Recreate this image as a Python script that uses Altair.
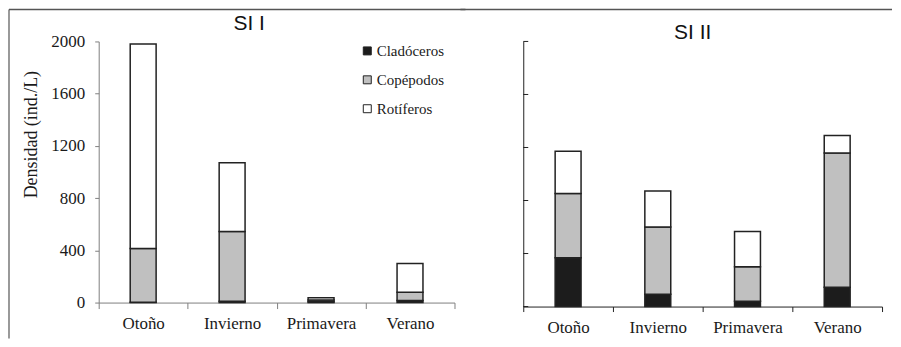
import altair as alt
import pandas as pd

seasons = ["Otoño", "Invierno", "Primavera", "Verano"]
groups = ["Cladóceros", "Copépodos", "Rotíferos"]
colors = ["#1c1c1c", "#c0c0c0", "#ffffff"]

si1_clad = [3, 10, 6, 15]
si1_cope = [412, 534, 14, 64]
si1_rot = [1565, 527, 16, 221]

si2_clad = [368, 92, 40, 145]
si2_cope = [484, 509, 261, 1013]
si2_rot = [319, 271, 265, 133]

y_ticks = [0, 400, 800, 1200, 1600, 2000]


def make_df(clad, cope, rot):
    rows = []
    for i, s in enumerate(seasons):
        for k, (g, v) in enumerate(zip(groups, [clad[i], cope[i], rot[i]])):
            rows.append({"season": s, "group": g, "value": v, "order": k})
    return pd.DataFrame(rows)


df1 = make_df(si1_clad, si1_cope, si1_rot)
df2 = make_df(si2_clad, si2_cope, si2_rot)
one = pd.DataFrame({"a": [0]})
tick_df = pd.DataFrame({"t": y_ticks})

SERIF = "Liberation Serif"
SANS = "Liberation Sans"


def panel(df, w, h, left, axis_color, title, title_x, title_y, frame):
    xaxis = alt.Axis(
        title=None, labelAngle=0, labelFont=SERIF, labelFontSize=17,
        labelColor="#1a1a1a", domainColor=axis_color, tickColor=axis_color,
        tickBand="extent", tickSize=6 if left else 5,
        labelPadding=7 if left else 8, grid=False,
    )
    yscale = alt.Scale(domain=[0, 2000], nice=False)
    if left:
        yaxis = alt.Axis(
            title="Densidad (ind./L)", values=y_ticks, format="d", labelFont=SERIF,
            labelFontSize=17, labelColor="#1a1a1a", domainColor=axis_color,
            tickColor=axis_color, tickSize=4, labelPadding=10, grid=False,
            titleFont=SERIF, titleFontSize=18, titleFontWeight="normal",
            titleColor="#1a1a1a", titleX=-67, titleY=93, titleAlign="center",
            titleBaseline="middle", titleAngle=270,
        )
        legend = alt.Legend(
            orient="none", legendX=262, legendY=2, title=None,
            symbolType="square", symbolSize=64, symbolStrokeColor="#222222",
            symbolStrokeWidth=1, labelFont=SERIF, labelFontSize=15,
            labelColor="#1a1a1a", rowPadding=13, labelOffset=2, padding=0,
        )
    else:
        yaxis = alt.Axis(
            title=None, values=y_ticks, labels=False, domain=True,
            domainColor=axis_color, ticks=False, grid=False,
        )
        legend = None

    bars = alt.Chart(df).mark_bar(size=26, stroke="#222222", strokeWidth=1.5).encode(
        x=alt.X("season:N", sort=seasons, axis=xaxis,
                scale=alt.Scale(paddingInner=0, paddingOuter=0)),
        y=alt.Y("sum(value):Q", axis=yaxis, scale=yscale),
        color=alt.Color("group:N", sort=groups,
                        scale=alt.Scale(domain=groups, range=colors),
                        legend=legend),
        order=alt.Order("order:Q", sort="ascending"),
    )

    ttl = alt.Chart(one).mark_text(
        font=SANS, fontSize=21, color="#111111", align="center", baseline="middle"
    ).encode(x=alt.value(title_x), y=alt.value(title_y), text=alt.value(title))

    layers = [bars, ttl]
    if not left:
        # inward-pointing y ticks of the right panel
        inticks = alt.Chart(tick_df).mark_rule(color=axis_color, strokeWidth=1).encode(
            y=alt.Y("t:Q", scale=yscale, axis=yaxis), x=alt.value(0), x2=alt.value(5)
        )
        layers.append(inticks)
    # frame lines of the original figure
    top = alt.Chart(one).mark_rule(color="#555555", strokeWidth=1.5).encode(
        x=alt.value(frame[0]), x2=alt.value(frame[1]), y=alt.value(-32)
    )
    layers.append(top)
    if left:
        side = alt.Chart(one).mark_rule(color="#555555", strokeWidth=1.2).encode(
            x=alt.value(-90), y=alt.value(-32), y2=alt.value(298)
        )
        layers.append(side)

    return alt.layer(*layers).properties(width=w, height=h)


left_panel = panel(df1, 357, 262, True, "#808080", "SI I", 151, -17, (-90, 368))
right_panel = panel(df2, 360, 266, False, "#222222", "SI II", 170, -8, (-63, 370))

chart = (
    alt.hconcat(left_panel, right_panel, spacing=-7)
    .resolve_scale(color="independent")
    .resolve_legend(color="independent")
    .properties(padding=0, background="white")
    .configure(font=SERIF)
    .configure_view(stroke=None)
    .configure_axis(labelFont=SERIF, titleFont=SERIF)
    .configure_legend(labelFont=SERIF, titleFont=SERIF)
)

chart.save("out.html", embed_options={"renderer": "svg", "actions": False})
